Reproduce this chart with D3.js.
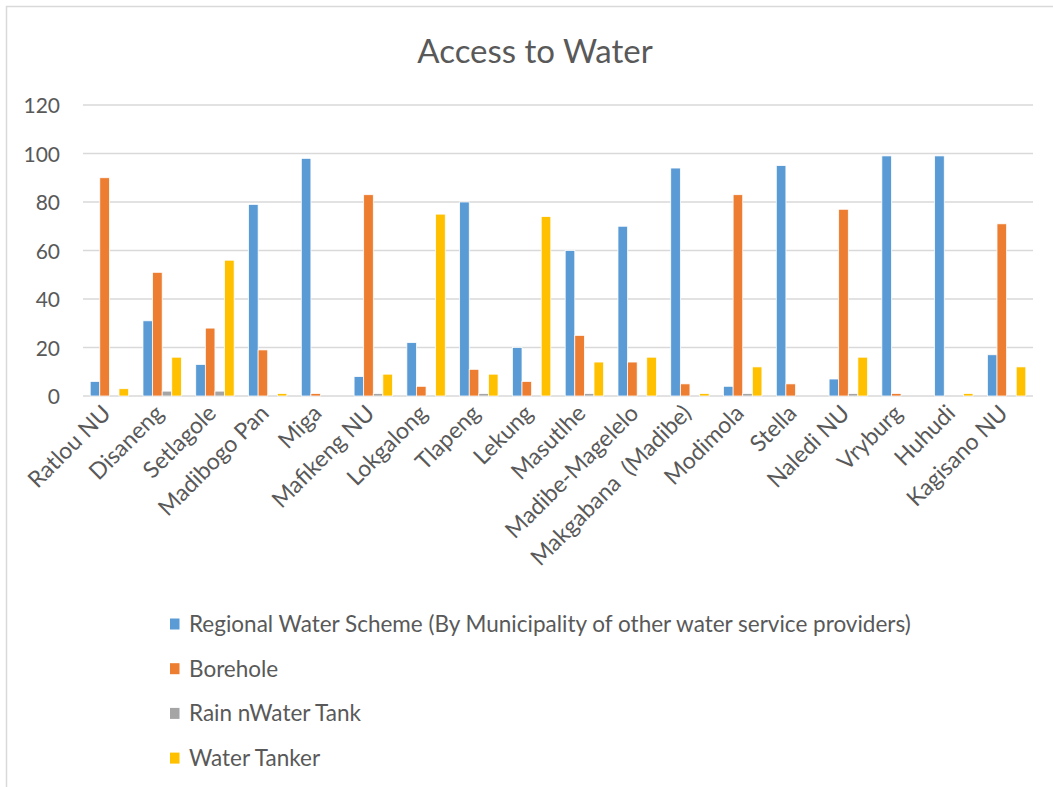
<!DOCTYPE html>
<html>
<head>
<meta charset="utf-8">
<script src="https://cdn.jsdelivr.net/npm/d3@7"></script>
<style>
  html, body { margin: 0; padding: 0; background: #fff; }
  svg { display: block; }
  text { font-family: Lato, "Open Sans", sans-serif; fill: #595959; }
</style>
</head>
<body>
<svg id="chart" width="1053" height="787"></svg>
<script>
const categories = ["Ratlou NU", "Disaneng", "Setlagole", "Madibogo Pan", "Miga", "Mafikeng NU",
  "Lokgalong", "Tlapeng", "Lekung", "Masutlhe", "Madibe-Magelelo", "Makgabana  (Madibe)",
  "Modimola", "Stella", "Naledi NU", "Vryburg", "Huhudi", "Kagisano NU"];
const seriesNames = ["Regional Water Scheme (By Municipality of other water service providers)",
  "Borehole", "Rain nWater Tank", "Water Tanker"];
const regionalWaterScheme = [6, 31, 13, 79, 98, 8, 22, 80, 20, 60, 70, 94, 4, 95, 7, 99, 99, 17];
const borehole            = [90, 51, 28, 19, 1, 83, 4, 11, 6, 25, 14, 5, 83, 5, 77, 1, 0, 71];
const rainWaterTank       = [0, 2, 2, 0, 0, 1, 0, 1, 0, 1, 0, 0, 1, 0, 1, 0, 0, 0];
const waterTanker         = [3, 16, 56, 1, 0, 9, 75, 9, 74, 14, 16, 1, 12, 0, 16, 0, 1, 12];
const yTicks = [0, 20, 40, 60, 80, 100, 120];
const colors = ["#5B9BD5", "#ED7D31", "#A5A5A5", "#FFC000"];
const title = "Access to Water";

const seriesValues = [regionalWaterScheme, borehole, rainWaterTank, waterTanker];

const svg = d3.select("#chart");

// outer chart border
svg.append("rect").attr("x", 6.5).attr("y", 6.5).attr("width", 1100).attr("height", 850)
  .attr("fill", "none").attr("stroke", "#d9d9d9").attr("stroke-width", 1.5);

const plot = { left: 83, right: 1033, top: 105, bottom: 396 };

const x0 = d3.scaleBand().domain(categories).range([plot.left, plot.right])
  .paddingInner(1.5 / 5.5).paddingOuter(0.75 / 5.5);
const x1 = d3.scaleBand().domain(d3.range(seriesNames.length)).range([0, x0.bandwidth()]);
const y = d3.scaleLinear().domain([0, 120]).range([plot.bottom, plot.top]);

// title
svg.append("text").attr("x", 535).attr("y", 63).attr("text-anchor", "middle")
  .style("font-size", "33px").style("font-weight", 400).text(title);

// gridlines
svg.append("g").selectAll("line").data(yTicks).join("line")
  .attr("x1", plot.left).attr("x2", plot.right)
  .attr("y1", d => y(d)).attr("y2", d => y(d))
  .attr("stroke", "#d9d9d9").attr("stroke-width", 1.5);

// y axis labels
const yAxis = d3.axisLeft(y).tickValues(yTicks).tickSize(0).tickPadding(0);
const yg = svg.append("g").attr("transform", `translate(60,0)`).call(yAxis);
yg.select(".domain").remove();
yg.selectAll("text").style("font-size", "21px").style("font-family", "Lato, sans-serif")
  .attr("fill", "#595959").attr("dy", "0.36em");

// bars
const groups = svg.append("g").selectAll("g").data(categories).join("g")
  .attr("transform", d => `translate(${x0(d)},0)`);
groups.selectAll("rect").data((c, i) => seriesValues.map((s, k) => ({ k, v: s[i] })))
  .join("rect")
  .attr("x", d => x1(d.k))
  .attr("width", x1.bandwidth())
  .attr("y", d => y(d.v))
  .attr("height", d => y(0) - y(d.v))
  .attr("fill", d => colors[d.k])
  .attr("stroke", "#fff").attr("stroke-width", 0.75);

// x axis labels
const xAxis = d3.axisBottom(x0).tickSize(0).tickPadding(0);
const xg = svg.append("g").attr("transform", `translate(0,${plot.bottom})`).call(xAxis);
xg.select(".domain").remove();
xg.selectAll("text")
  .style("font-size", "23px").style("font-family", "Lato, sans-serif").style("white-space", "pre")
  .attr("fill", "#595959")
  .attr("text-anchor", "end")
  .attr("dy", "0.35em").attr("y", 0)
  .attr("transform", "translate(-3,13) rotate(-45)");

// legend
const legend = svg.append("g").selectAll("g").data(seriesNames).join("g")
  .attr("transform", (d, i) => `translate(170,${624 + i * 44.7})`);
legend.append("rect").attr("x", 0).attr("y", -5.5).attr("width", 9.5).attr("height", 11)
  .attr("fill", (d, i) => colors[i]);
legend.append("text").attr("x", 19).attr("y", 0).attr("dy", "0.35em")
  .style("font-size", "22.5px").text(d => d);
</script>
</body>
</html>
